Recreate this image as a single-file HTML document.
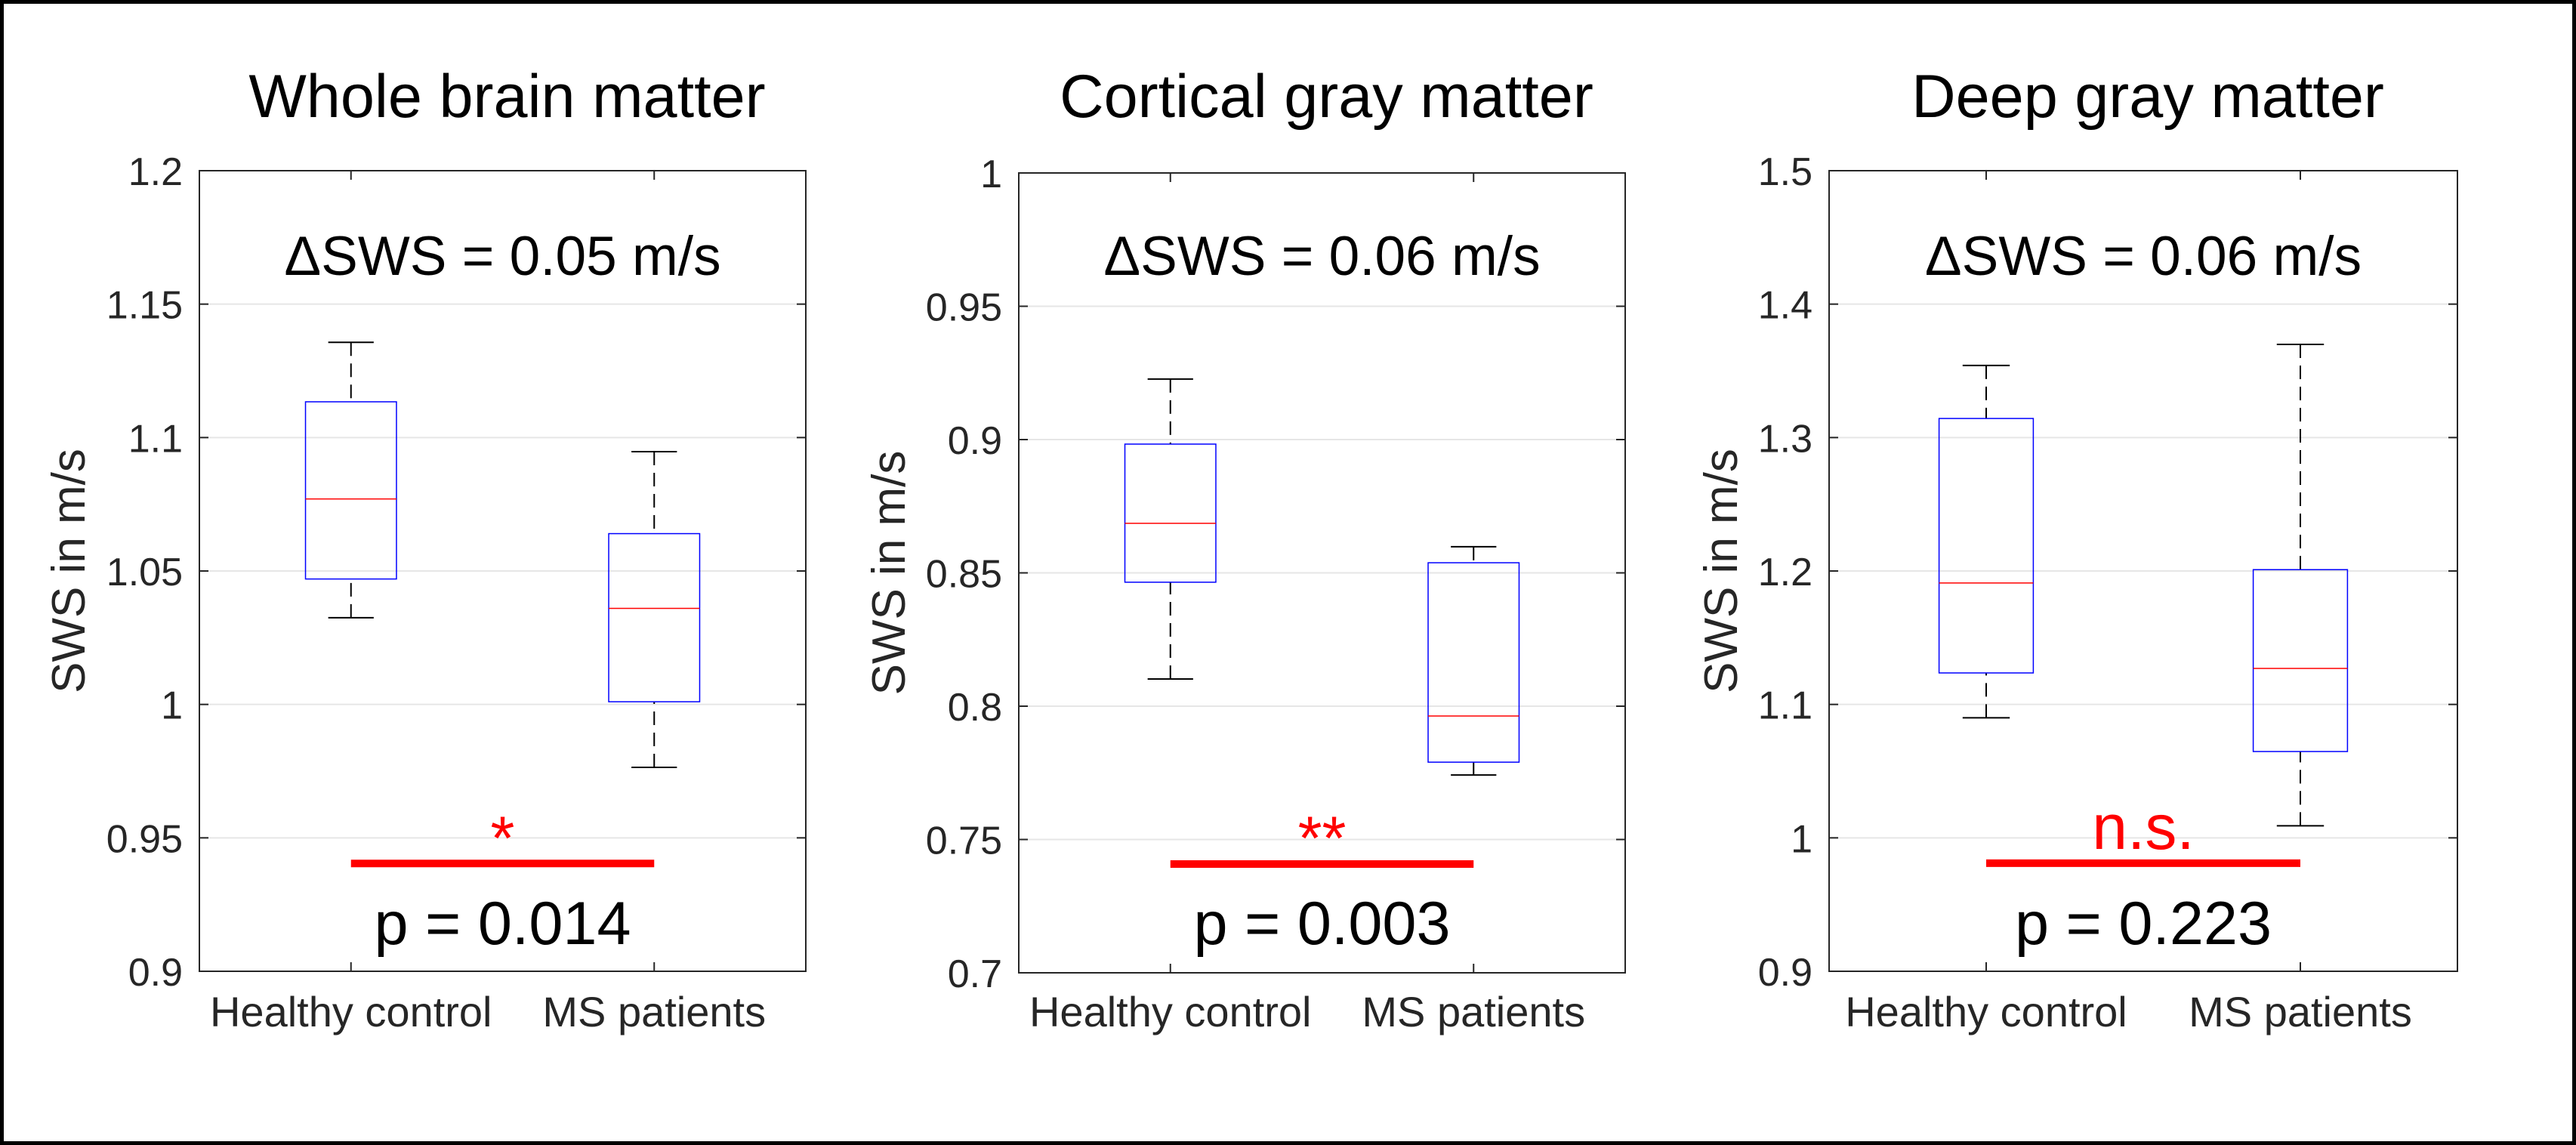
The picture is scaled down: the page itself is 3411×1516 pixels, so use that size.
<!DOCTYPE html>
<html><head><meta charset="utf-8">
<style>
html,body{margin:0;padding:0;background:#fff;}
body{width:3411px;height:1516px;overflow:hidden;}
svg{display:block;font-family:"Liberation Sans",Arial,sans-serif;}
</style></head>
<body>
<svg id="fig" width="3411" height="1516" viewBox="0 0 3411 1516">
<rect x="2.5" y="2.5" width="3406" height="1511" fill="#fff" stroke="#000" stroke-width="5"/>
</svg>
<script>
const categories = ["Healthy control", "MS patients"];
const panelTitles = ["Whole brain matter", "Cortical gray matter", "Deep gray matter"];
const deltaLabels = ["ΔSWS = 0.05 m/s", "ΔSWS = 0.06 m/s", "ΔSWS = 0.06 m/s"];
const pLabels = ["p = 0.014", "p = 0.003", "p = 0.223"];
const sigLabels = ["*", "**", "n.s."];
const sigBarValues = [0.9404, 0.7408, 0.981];
const yDomains = [[0.9, 1.2], [0.7, 1.0], [0.9, 1.5]];
const yTicks = [
  [0.9, 0.95, 1, 1.05, 1.1, 1.15, 1.2],
  [0.7, 0.75, 0.8, 0.85, 0.9, 0.95, 1],
  [0.9, 1, 1.1, 1.2, 1.3, 1.4, 1.5]
];
const yTickLabels = [
  ["0.9", "0.95", "1", "1.05", "1.1", "1.15", "1.2"],
  ["0.7", "0.75", "0.8", "0.85", "0.9", "0.95", "1"],
  ["0.9", "1", "1.1", "1.2", "1.3", "1.4", "1.5"]
];
// [whiskerLow, q1, median, q3, whiskerHigh] per category
const wholeBrainStats = [[1.0325, 1.047, 1.077, 1.1134, 1.1357], [0.9764, 1.001, 1.036, 1.064, 1.0947]];
const corticalStats = [[0.8102, 0.8465, 0.8686, 0.8983, 0.9227], [0.7742, 0.779, 0.7963, 0.8538, 0.8598]];
const deepStats = [[1.090, 1.1236, 1.191, 1.3143, 1.354], [1.009, 1.0647, 1.127, 1.201, 1.3698]];
const allStats = [wholeBrainStats, corticalStats, deepStats];

const layouts = [
  {l:264, r:1067, t:226, b:1286, ylx:112},
  {l:1349, r:2152, t:229, b:1288, ylx:1198},
  {l:2422, r:3254, t:226, b:1286, ylx:2300}
];
const NS = "http://www.w3.org/2000/svg";
const svg = document.getElementById('fig');
function mk(tag, attrs, parent){
  const e = document.createElementNS(NS, tag);
  for (const k in attrs) e.setAttribute(k, attrs[k]);
  (parent||svg).appendChild(e);
  return e;
}
layouts.forEach((L, p) => {
  const g = mk('g', {});
  
  
  const [d0, d1] = yDomains[p];
  const y = v => L.b - (v - d0) / (d1 - d0) * (L.b - L.t);
  const x = i => L.l + (0.25 + 0.5 * i) * (L.r - L.l);
  const cx = (L.l + L.r) / 2;
  // grid + ticks
  yTicks[p].forEach((v, i) => {
    const yy = y(v);
    if (i > 0 && i < yTicks[p].length - 1) {
      const gl = mk('line', {x1:L.l, x2:L.r, y1:yy, y2:yy, stroke:'#e6e6e6', 'stroke-width':2}, g);
      
      
    }
    mk('line', {x1:L.l, x2:L.l+12, y1:yy, y2:yy, stroke:'#262626', 'stroke-width':2}, g);
    mk('line', {x1:L.r-12, x2:L.r, y1:yy, y2:yy, stroke:'#262626', 'stroke-width':2}, g);
    const t = mk('text', {x:L.l-22, y:yy+19, 'text-anchor':'end', 'font-size':52, fill:'#262626'}, g);
    t.textContent = yTickLabels[p][i];
    
    
  });
  categories.forEach((c, i) => {
    mk('line', {x1:x(i), x2:x(i), y1:L.b, y2:L.b-12, stroke:'#262626', 'stroke-width':2}, g);
    mk('line', {x1:x(i), x2:x(i), y1:L.t, y2:L.t+12, stroke:'#262626', 'stroke-width':2}, g);
    const t = mk('text', {x:x(i), y:1359, 'text-anchor':'middle', 'font-size':56, fill:'#262626'}, g);
    t.textContent = c;
    
    
  });
  const ax = mk('rect', {x:L.l, y:L.t, width:L.r-L.l, height:L.b-L.t, fill:'none', stroke:'#262626', 'stroke-width':2}, g);
  
  
  // boxes
  const hw = (L.r - L.l) * 0.075, cw = hw / 2;
  allStats[p].forEach((s, i) => {
    const bx = mk('g', {}, g);
    
    
    const X = x(i);
    mk('line', {x1:X, x2:X, y1:y(s[0]), y2:y(s[1]), stroke:'#000', 'stroke-width':2, 'stroke-dasharray':'18,10'}, bx);
    mk('line', {x1:X, x2:X, y1:y(s[4]), y2:y(s[3]), stroke:'#000', 'stroke-width':2, 'stroke-dasharray':'18,10'}, bx);
    mk('line', {x1:X-cw, x2:X+cw, y1:y(s[0]), y2:y(s[0]), stroke:'#000', 'stroke-width':2}, bx);
    mk('line', {x1:X-cw, x2:X+cw, y1:y(s[4]), y2:y(s[4]), stroke:'#000', 'stroke-width':2}, bx);
    mk('rect', {x:X-hw, y:y(s[3]), width:2*hw, height:y(s[1])-y(s[3]), fill:'none', stroke:'#0000ff', 'stroke-width':1.5}, bx);
    mk('line', {x1:X-hw, x2:X+hw, y1:y(s[2]), y2:y(s[2]), stroke:'#ff0000', 'stroke-width':1.5}, bx);
  });
  // annotations
  const bar = mk('line', {x1:x(0), x2:x(1), y1:y(sigBarValues[p]), y2:y(sigBarValues[p]), stroke:'#ff0000', 'stroke-width':10}, g);
  
  
  const isStar = sigLabels[p].indexOf('*') >= 0;
  const sg = mk('text', {x:cx, y:isStar ? 1138 : 1124, 'text-anchor':'middle', 'font-size':isStar ? 82 : 84, fill:'#ff0000'}, g);
  sg.textContent = sigLabels[p];
  
  
  const pt = mk('text', {x:cx, y:1250, 'text-anchor':'middle', 'font-size':81, fill:'#000'}, g);
  pt.textContent = pLabels[p];
  
  
  const dt = mk('text', {x:cx, y:364, 'text-anchor':'middle', 'font-size':73, fill:'#000'}, g);
  dt.textContent = deltaLabels[p];
  
  
  const tt = mk('text', {x:cx+6, y:155, 'text-anchor':'middle', 'font-size':81, fill:'#000'}, g);
  tt.textContent = panelTitles[p];
  
  
  const yl = mk('text', {x:0, y:0, 'text-anchor':'middle', 'font-size':62, fill:'#262626', transform:'translate(' + L.ylx + ',' + ((L.t+L.b)/2) + ') rotate(-90)'}, g);
  yl.textContent = 'SWS in m/s';
  
  
});
</script>
</body></html>
